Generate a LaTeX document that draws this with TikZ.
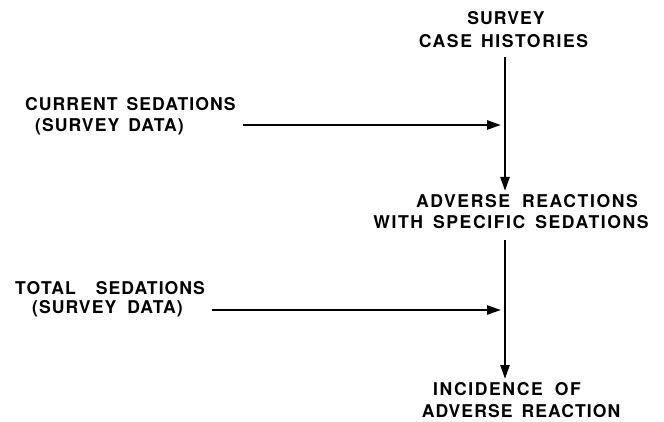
\documentclass[tikz,border=0pt]{standalone}
\usepackage{fontspec}
\setmainfont{TeX Gyre Heros}[LetterSpace=6,BoldFont={* Bold}]
\usetikzlibrary{arrows.meta}
\newcommand{\gap}{\hspace{9pt}}
\begin{document}
\begin{tikzpicture}[x=1pt,y=-1pt,
  lbl/.style={inner sep=0pt,font=\fontsize{17.6}{19}\selectfont\bfseries},
  wide/.style={lbl,font=\fontsize{17.6}{19}\selectfont\bfseries\addfontfeature{LetterSpace=9}},
  flow/.style={line width=2.4pt,-{Triangle[length=14pt,width=9pt]}}]
\useasboundingbox (0,0) rectangle (664,422);
% top
\node[lbl] (top1) at (506,18) {SURVEY};
\node[wide] (top2) at (503.5,41) {CASE\gap HISTORIES};
% middle
\node[wide] (mid1) at (527,201) {ADVERSE\hspace{12pt}REACTIONS};
\node[wide] (mid2) at (511,222) {WITH\hspace{10pt}SPECIFIC\hspace{10pt}SEDATIONS};
% bottom
\node[wide] (bot1) at (507,389) {INCIDENCE\hspace{12pt}OF};
\node[lbl] (bot2) at (521,411) {ADVERSE\gap REACTION};
% left inputs
\node[lbl,anchor=west] (cur1) at (25,104) {CURRENT\gap SEDATIONS};
\node[lbl,anchor=west] (cur2) at (35,127) {(SURVEY\gap DATA)};
\node[lbl,anchor=west] (tot1) at (15,288) {TOTAL\hspace{20pt}SEDATIONS};
\node[lbl,anchor=west] (tot2) at (32,309) {(SURVEY\hspace{11pt}DATA)};
% connectors
\coordinate (vA) at (505,57);
\coordinate (vB) at (505,191);
\coordinate (vC) at (505,240);
\coordinate (vD) at (505,379);
\coordinate (hA) at (243,125);
\coordinate (hB) at (212,310);
\draw[flow] (vA) -- (vB);
\draw[flow] (vC) -- (vD);
\draw[flow] (hA) -- ([xshift=-4pt]hA -| vA);
\draw[flow] (hB) -- ([xshift=-4pt]hB -| vA);
\end{tikzpicture}
\end{document}
